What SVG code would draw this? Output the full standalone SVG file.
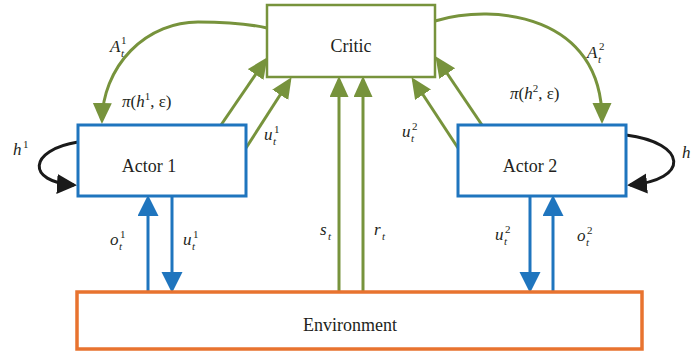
<svg xmlns="http://www.w3.org/2000/svg" width="691" height="353" viewBox="0 0 691 353" font-family="'Liberation Serif', 'Times New Roman', Tinos, 'DejaVu Serif', serif">
<defs>
<style>
.box{fill:#fff}
.g{stroke:#77933C;fill:none;stroke-width:3}
.b{stroke:#1F75BE;fill:none;stroke-width:3}
.k{stroke:#1a1a1a;fill:none;stroke-width:3}
text{font-family:'Liberation Serif','Times New Roman',Tinos,'DejaVu Serif',serif;fill:#231f20}
.lbl{font-size:18px}
.v{font-size:17px;font-style:italic}
.sp{font-size:11px}
.si{font-size:11px;font-style:italic}
</style>
<marker id="ag" markerUnits="userSpaceOnUse" markerWidth="22" markerHeight="20" refX="17" refY="9.5" orient="auto" viewBox="0 0 22 20"><path d="M0,0 L21,9.5 L0,19 z" fill="#77933C"/></marker>
<marker id="ab" markerUnits="userSpaceOnUse" markerWidth="22" markerHeight="22" refX="17" refY="10.5" orient="auto" viewBox="0 0 22 22"><path d="M0,0 L21,10.5 L0,21 z" fill="#1F75BE"/></marker>
<marker id="ak" markerUnits="userSpaceOnUse" markerWidth="22" markerHeight="22" refX="17" refY="10" orient="auto" viewBox="0 0 22 22"><path d="M0,0 L20,10 L0,20 z" fill="#1a1a1a"/></marker>
</defs>

<g id="connectors">
  <path class="g" d="M267,28 C245,23 220,22 198,22 A96,100 0 0 0 102,120" marker-end="url(#ag)"/>
  <path class="g" d="M435,21 C495,3 602,15 602,120" marker-end="url(#ag)"/>
  <path class="g" d="M221,125 L265.2,60.5" marker-end="url(#ag)"/>
  <path class="g" d="M246,148 L289.4,80.5" marker-end="url(#ag)"/>
  <path class="g" d="M482,125 L437.7,59.5" marker-end="url(#ag)"/>
  <path class="g" d="M458,148 L413.7,80.5" marker-end="url(#ag)"/>
  <path class="g" d="M339,292 L339,80" marker-end="url(#ag)"/>
  <path class="g" d="M363,292 L363,80" marker-end="url(#ag)"/>
  <path class="b" d="M148,292 L148,199" marker-end="url(#ab)"/>
  <path class="b" d="M172,196 L172,289" marker-end="url(#ab)"/>
  <path class="b" d="M530,196 L530,289" marker-end="url(#ab)"/>
  <path class="b" d="M553,292 L553,199" marker-end="url(#ab)"/>
  <path class="k" d="M78,142 C28,150 26,182 74,185" marker-end="url(#ak)"/>
  <path class="k" d="M626,135 C688,143 690,180 630,185" marker-end="url(#ak)"/>
</g>

<g id="critic">
  <rect class="box" x="267" y="5" width="168" height="72" stroke="#77933C" stroke-width="2.5"/>
  <text class="lbl" x="351" y="52" text-anchor="middle">Critic</text>
</g>
<g id="actor1">
  <rect class="box" x="78" y="125" width="168" height="71" stroke="#1F75BE" stroke-width="3"/>
  <text class="lbl" x="149" y="172" text-anchor="middle">Actor 1</text>
</g>
<g id="actor2">
  <rect class="box" x="458" y="125" width="168" height="71" stroke="#1F75BE" stroke-width="3"/>
  <text class="lbl" x="530" y="172" text-anchor="middle">Actor 2</text>
</g>
<g id="environment">
  <rect class="box" x="77" y="292" width="565" height="57" stroke="#E8732F" stroke-width="3.5"/>
  <text class="lbl" x="350" y="331" text-anchor="middle">Environment</text>
</g>

<g id="labels">
  <text class="v" x="110" y="52">A</text><text class="sp" x="121" y="44">1</text><text class="si" x="121" y="57">t</text>
  <text class="v" x="587" y="58">A</text><text class="sp" x="599" y="50">2</text><text class="si" x="598" y="63">t</text>
  <text x="122" y="107" font-size="17"><tspan font-style="italic">π</tspan>(<tspan font-style="italic">h</tspan><tspan font-size="11" dy="-7">1</tspan><tspan dy="7">, ε)</tspan></text>
  <text x="510" y="99" font-size="17"><tspan font-style="italic">π</tspan>(<tspan font-style="italic">h</tspan><tspan font-size="11" dy="-7">2</tspan><tspan dy="7">, ε)</tspan></text>
  <text class="v" x="13" y="155">h</text><text class="sp" x="23" y="148">1</text>
  <text class="v" x="682" y="158">h</text>
  <text class="v" x="264" y="140">u</text><text class="sp" x="274" y="133">1</text><text class="si" x="273" y="145">t</text>
  <text class="v" x="402" y="137">u</text><text class="sp" x="412" y="130">2</text><text class="si" x="411" y="142">t</text>
  <text class="v" x="110" y="245">o</text><text class="sp" x="120" y="238">1</text><text class="si" x="119" y="250">t</text>
  <text class="v" x="183" y="245">u</text><text class="sp" x="193" y="238">1</text><text class="si" x="192" y="250">t</text>
  <text class="v" x="495" y="240">u</text><text class="sp" x="505" y="233">2</text><text class="si" x="504" y="245">t</text>
  <text class="v" x="577" y="241">o</text><text class="sp" x="587" y="234">2</text><text class="si" x="586" y="246">t</text>
  <text class="v" x="320" y="235">s</text><text class="si" x="328" y="240">t</text>
  <text class="v" x="374" y="235">r</text><text class="si" x="382" y="240">t</text>
</g>
</svg>
